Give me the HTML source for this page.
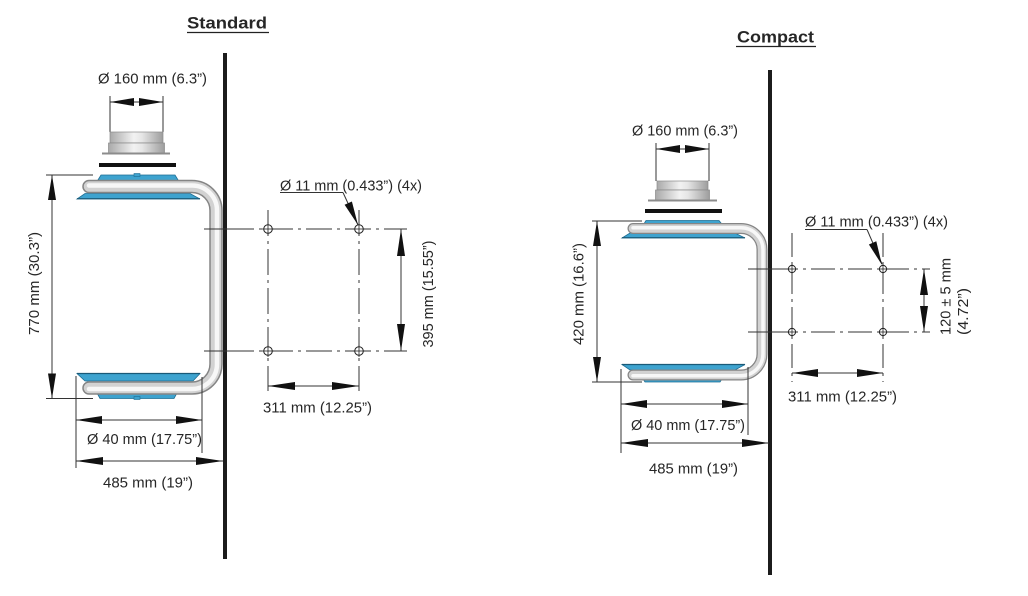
<!DOCTYPE html>
<html>
<head>
<meta charset="utf-8">
<style>
  html,body{margin:0;padding:0;background:#fff;}
  svg{display:block;}
  text{font-family:"Liberation Sans",sans-serif;fill:#262626;}
</style>
</head>
<body>
<svg width="1028" height="596" viewBox="0 0 1028 596" xmlns="http://www.w3.org/2000/svg">
  <defs>
    <linearGradient id="cyl" x1="0" y1="0" x2="1" y2="0">
      <stop offset="0" stop-color="#a9a9a9"/>
      <stop offset="0.45" stop-color="#f2f2f2"/>
      <stop offset="0.6" stop-color="#e6e6e6"/>
      <stop offset="1" stop-color="#9d9d9d"/>
    </linearGradient>
  </defs>
  <rect width="1028" height="596" fill="#fff"/>

  <!-- ================= STANDARD ================= -->
  <text x="187" y="28.5" font-size="16.5" font-weight="bold" textLength="80" lengthAdjust="spacingAndGlyphs">Standard</text>
  <line x1="187" y1="32.5" x2="269" y2="32.5" stroke="#222" stroke-width="1.3"/>

  <!-- wall -->
  <rect x="223" y="53" width="4" height="506" fill="#1c1c1c"/>

  <!-- 160 dim -->
  <text x="98" y="83.5" font-size="15" textLength="109" lengthAdjust="spacingAndGlyphs">Ø 160 mm (6.3”)</text>
  <g stroke="#333" stroke-width="1" fill="none">
    <line x1="110" y1="96" x2="110" y2="132"/>
    <line x1="163" y1="96" x2="163" y2="132"/>
    <line x1="110" y1="102" x2="163" y2="102"/>
  </g>
  <polygon points="110,102 134,98 134,106" fill="#111"/>
  <polygon points="163,102 139,98 139,106" fill="#111"/>

  <!-- cylinder / collar -->
  <rect x="110" y="132" width="53" height="11" fill="url(#cyl)" stroke="#8a8a8a" stroke-width="0.7"/>
  <rect x="108.5" y="143" width="56" height="10" fill="url(#cyl)" stroke="#8a8a8a" stroke-width="0.7"/>
  <rect x="102" y="152.5" width="68" height="2" fill="#8c8c8c"/>
  <!-- black bar -->
  <rect x="99" y="163" width="77" height="4" fill="#111"/>

  <!-- top plates -->
  <polygon points="97,181.5 101,175 175,175 179,181.5" fill="#3ea3cf" stroke="#1f6d92" stroke-width="0.8"/>
  <rect x="134" y="173.5" width="6" height="3" fill="#3ea3cf" stroke="#1f6d92" stroke-width="0.6"/>
  <polygon points="85,193.5 190,193.5 200,199 77,199" fill="#3ea3cf" stroke="#1f6d92" stroke-width="0.8"/>
  <line x1="77" y1="198.7" x2="200" y2="198.7" stroke="#1a5a78" stroke-width="1.2"/>
  <!-- bottom plates -->
  <polygon points="77,373.5 200,373.5 193,381 85,381" fill="#3ea3cf" stroke="#1f6d92" stroke-width="0.8"/>
  <line x1="77" y1="373.5" x2="200" y2="373.5" stroke="#1a5a78" stroke-width="1.3"/>
  <polygon points="97,393 177,393 174,398.5 100,398.5" fill="#3ea3cf" stroke="#1f6d92" stroke-width="0.8"/>
  <rect x="134" y="396.5" width="6" height="3" fill="#3ea3cf" stroke="#1f6d92" stroke-width="0.6"/>

  <!-- pipe -->
  <path d="M 89 186.5 H 192 A 24 24 0 0 1 216 210.5 V 364 A 24 24 0 0 1 192 388 H 89" fill="none" stroke="#858585" stroke-width="13.5" stroke-linecap="round"/>
  <path d="M 89 186.5 H 192 A 24 24 0 0 1 216 210.5 V 364 A 24 24 0 0 1 192 388 H 89" fill="none" stroke="#d2d2d2" stroke-width="10.5" stroke-linecap="round"/>
  <path d="M 89 185.5 H 192 A 25 25 0 0 1 217 210.5 V 364 A 25 25 0 0 1 192 389 H 89" fill="none" stroke="#f7f7f7" stroke-width="4.5" stroke-linecap="round"/>

  <!-- 770 dim -->
  <g stroke="#333" stroke-width="1" fill="none">
    <line x1="46" y1="175" x2="93" y2="175"/>
    <line x1="46" y1="398.5" x2="93" y2="398.5"/>
    <line x1="52" y1="175" x2="52" y2="398.5"/>
  </g>
  <polygon points="52,175 48,200 56,200" fill="#111"/>
  <polygon points="52,398.5 48,373.5 56,373.5" fill="#111"/>
  <text transform="translate(39,283.5) rotate(-90)" text-anchor="middle" font-size="15" textLength="103" lengthAdjust="spacingAndGlyphs">770 mm (30.3”)</text>

  <!-- Ø40 dim -->
  <g stroke="#333" stroke-width="1" fill="none">
    <line x1="76" y1="376" x2="76" y2="468"/>
    <line x1="202" y1="377" x2="202" y2="453"/>
    <line x1="76" y1="420" x2="202" y2="420"/>
    <line x1="76" y1="461" x2="223" y2="461"/>
  </g>
  <polygon points="76,420 102,416 102,424" fill="#111"/>
  <polygon points="202,420 176,416 176,424" fill="#111"/>
  <polygon points="76,461 103,457 103,465" fill="#111"/>
  <polygon points="223,461 196,457 196,465" fill="#111"/>
  <text x="87" y="444" font-size="15" textLength="115" lengthAdjust="spacingAndGlyphs">Ø 40 mm (17.75”)</text>
  <text x="103" y="487.5" font-size="15" textLength="90" lengthAdjust="spacingAndGlyphs">485 mm (19”)</text>

  <!-- mounting pattern standard -->
  <g stroke="#333" stroke-width="1" fill="none">
    <line x1="204" y1="229" x2="228" y2="229"/>
    <line x1="204" y1="351" x2="228" y2="351"/>
    <line x1="228" y1="229" x2="407" y2="229" stroke-dasharray="26 5 3 5"/>
    <line x1="228" y1="351" x2="407" y2="351" stroke-dasharray="26 5 3 5"/>
    <line x1="268" y1="210" x2="268" y2="391" stroke-dasharray="26 5 3 5"/>
    <line x1="359" y1="210" x2="359" y2="391" stroke-dasharray="26 5 3 5"/>
  </g>
  <g stroke="#222" stroke-width="1" fill="#fff">
    <circle cx="268" cy="229" r="4.3"/>
    <circle cx="359" cy="229" r="4.3"/>
    <circle cx="268" cy="351" r="4.3"/>
    <circle cx="359" cy="351" r="4.3"/>
  </g>
  <g stroke="#222" stroke-width="0.8">
    <line x1="262" y1="229" x2="274" y2="229"/><line x1="268" y1="223" x2="268" y2="235"/>
    <line x1="353" y1="229" x2="365" y2="229"/><line x1="359" y1="223" x2="359" y2="235"/>
    <line x1="262" y1="351" x2="274" y2="351"/><line x1="268" y1="345" x2="268" y2="357"/>
    <line x1="353" y1="351" x2="365" y2="351"/><line x1="359" y1="345" x2="359" y2="357"/>
  </g>

  <!-- Ø11 leader standard -->
  <text x="280" y="190.5" font-size="15" textLength="142" lengthAdjust="spacingAndGlyphs">Ø 11 mm (0.433”) (4x)</text>
  <g stroke="#333" stroke-width="1" fill="none">
    <line x1="280" y1="192.5" x2="343" y2="192.5"/>
    <line x1="343" y1="192.5" x2="358" y2="225"/>
  </g>
  <polygon points="358,225 351.9,201.5 344.6,204.7" fill="#111"/>

  <!-- 395 dim -->
  <line x1="401" y1="229" x2="401" y2="351" stroke="#333" stroke-width="1"/>
  <polygon points="401,229 397,256 405,256" fill="#111"/>
  <polygon points="401,351 397,324 405,324" fill="#111"/>
  <text transform="translate(433,294) rotate(-90)" text-anchor="middle" font-size="15" textLength="107" lengthAdjust="spacingAndGlyphs">395 mm (15.55”)</text>

  <!-- 311 dim -->
  <line x1="268" y1="386" x2="359" y2="386" stroke="#333" stroke-width="1"/>
  <polygon points="268,386 295,382 295,390" fill="#111"/>
  <polygon points="359,386 332,382 332,390" fill="#111"/>
  <text x="263" y="412.5" font-size="15" textLength="109" lengthAdjust="spacingAndGlyphs">311 mm (12.25”)</text>

  <!-- ================= COMPACT ================= -->
  <text x="737" y="42.5" font-size="16.5" font-weight="bold" textLength="77" lengthAdjust="spacingAndGlyphs">Compact</text>
  <line x1="736" y1="46.5" x2="816" y2="46.5" stroke="#222" stroke-width="1.3"/>

  <!-- wall -->
  <rect x="768" y="70" width="4" height="505" fill="#1c1c1c"/>

  <!-- 160 dim -->
  <text x="632" y="135.5" font-size="15" textLength="106" lengthAdjust="spacingAndGlyphs">Ø 160 mm (6.3”)</text>
  <g stroke="#333" stroke-width="1" fill="none">
    <line x1="656" y1="143" x2="656" y2="181"/>
    <line x1="709" y1="143" x2="709" y2="181"/>
    <line x1="656" y1="149" x2="709" y2="149"/>
  </g>
  <polygon points="656,149 680,145 680,153" fill="#111"/>
  <polygon points="709,149 685,145 685,153" fill="#111"/>

  <!-- cylinder -->
  <rect x="657" y="181" width="51" height="9" fill="url(#cyl)" stroke="#8a8a8a" stroke-width="0.7"/>
  <rect x="655.5" y="190" width="54" height="10" fill="url(#cyl)" stroke="#8a8a8a" stroke-width="0.7"/>
  <rect x="648" y="199.5" width="69" height="2" fill="#8c8c8c"/>
  <rect x="645" y="209" width="77" height="4" fill="#111"/>

  <!-- plates -->
  <polygon points="643,225.5 646,220.5 719,220.5 723,225.5" fill="#3ea3cf" stroke="#1f6d92" stroke-width="0.8"/>
  <polygon points="630,233 735,233 745,238 622,238" fill="#3ea3cf" stroke="#1f6d92" stroke-width="0.8"/>
  <line x1="622" y1="237.7" x2="745" y2="237.7" stroke="#1a5a78" stroke-width="1.2"/>
  <polygon points="622,364.5 745,364.5 735,370 630,370" fill="#3ea3cf" stroke="#1f6d92" stroke-width="0.8"/>
  <line x1="622" y1="364.5" x2="745" y2="364.5" stroke="#1a5a78" stroke-width="1.3"/>
  <polygon points="642,377.5 723,377.5 720,382 645,382" fill="#3ea3cf" stroke="#1f6d92" stroke-width="0.8"/>

  <!-- pipe -->
  <path d="M 633 228.5 H 741 A 21 21 0 0 1 762 249.5 V 354 A 21 21 0 0 1 741 375 H 633" fill="none" stroke="#858585" stroke-width="11" stroke-linecap="round"/>
  <path d="M 633 228.5 H 741 A 21 21 0 0 1 762 249.5 V 354 A 21 21 0 0 1 741 375 H 633" fill="none" stroke="#d2d2d2" stroke-width="8.5" stroke-linecap="round"/>
  <path d="M 633 227.8 H 741 A 22 22 0 0 1 763 249.5 V 354 A 22 22 0 0 1 741 375.8 H 633" fill="none" stroke="#f7f7f7" stroke-width="3.5" stroke-linecap="round"/>

  <!-- 420 dim -->
  <g stroke="#333" stroke-width="1" fill="none">
    <line x1="592" y1="221" x2="642" y2="221"/>
    <line x1="592" y1="382" x2="642" y2="382"/>
    <line x1="597" y1="221" x2="597" y2="382"/>
  </g>
  <polygon points="597,221 593,246 601,246" fill="#111"/>
  <polygon points="597,382 593,357 601,357" fill="#111"/>
  <text transform="translate(583.5,294) rotate(-90)" text-anchor="middle" font-size="15" textLength="102" lengthAdjust="spacingAndGlyphs">420 mm (16.6”)</text>

  <!-- Ø40 / 485 -->
  <g stroke="#333" stroke-width="1" fill="none">
    <line x1="621" y1="369" x2="621" y2="453"/>
    <line x1="748" y1="367" x2="748" y2="435"/>
    <line x1="621" y1="404" x2="748" y2="404"/>
    <line x1="621" y1="443" x2="769" y2="443"/>
  </g>
  <polygon points="621,404 647,400 647,408" fill="#111"/>
  <polygon points="748,404 722,400 722,408" fill="#111"/>
  <polygon points="621,443 648,439 648,447" fill="#111"/>
  <polygon points="769,443 742,439 742,447" fill="#111"/>
  <text x="631" y="430" font-size="15" textLength="114" lengthAdjust="spacingAndGlyphs">Ø 40 mm (17.75”)</text>
  <text x="649" y="473.5" font-size="15" textLength="89" lengthAdjust="spacingAndGlyphs">485 mm (19”)</text>

  <!-- mounting pattern compact -->
  <g stroke="#333" stroke-width="1" fill="none">
    <line x1="748" y1="269" x2="774" y2="269"/>
    <line x1="748" y1="332" x2="774" y2="332"/>
    <line x1="774" y1="269" x2="930" y2="269" stroke-dasharray="24 5 3 5"/>
    <line x1="774" y1="332" x2="930" y2="332" stroke-dasharray="24 5 3 5"/>
    <line x1="792" y1="233" x2="792" y2="382" stroke-dasharray="24 5 3 5"/>
    <line x1="883" y1="233" x2="883" y2="382" stroke-dasharray="24 5 3 5"/>
  </g>
  <g stroke="#222" stroke-width="1" fill="#fff">
    <circle cx="792" cy="269" r="3.6"/>
    <circle cx="883" cy="269" r="3.6"/>
    <circle cx="792" cy="332" r="3.6"/>
    <circle cx="883" cy="332" r="3.6"/>
  </g>
  <g stroke="#222" stroke-width="0.8">
    <line x1="787" y1="269" x2="797" y2="269"/><line x1="792" y1="264" x2="792" y2="274"/>
    <line x1="878" y1="269" x2="888" y2="269"/><line x1="883" y1="264" x2="883" y2="274"/>
    <line x1="787" y1="332" x2="797" y2="332"/><line x1="792" y1="327" x2="792" y2="337"/>
    <line x1="878" y1="332" x2="888" y2="332"/><line x1="883" y1="327" x2="883" y2="337"/>
  </g>

  <!-- Ø11 leader compact -->
  <text x="805" y="226.5" font-size="15" textLength="143" lengthAdjust="spacingAndGlyphs">Ø 11 mm (0.433”) (4x)</text>
  <g stroke="#333" stroke-width="1" fill="none">
    <line x1="805" y1="229.5" x2="867" y2="229.5"/>
    <line x1="867" y1="229.5" x2="882" y2="264"/>
  </g>
  <polygon points="882,265 876.3,241.3 868.9,244.5" fill="#111"/>

  <!-- 120 dim -->
  <line x1="924" y1="269" x2="924" y2="332" stroke="#333" stroke-width="1"/>
  <polygon points="924,269 920,295 928,295" fill="#111"/>
  <polygon points="924,332 920,306 928,306" fill="#111"/>
  <text transform="translate(950.5,335) rotate(-90)" font-size="15" textLength="77" lengthAdjust="spacingAndGlyphs">120 ± 5 mm</text>
  <text transform="translate(968,335) rotate(-90)" font-size="15" textLength="47" lengthAdjust="spacingAndGlyphs">(4.72”)</text>

  <!-- 311 dim -->
  <line x1="792" y1="373" x2="883" y2="373" stroke="#333" stroke-width="1"/>
  <polygon points="792,373 818,369 818,377" fill="#111"/>
  <polygon points="883,373 857,369 857,377" fill="#111"/>
  <text x="788" y="401.5" font-size="15" textLength="109" lengthAdjust="spacingAndGlyphs">311 mm (12.25”)</text>
</svg>
</body>
</html>
